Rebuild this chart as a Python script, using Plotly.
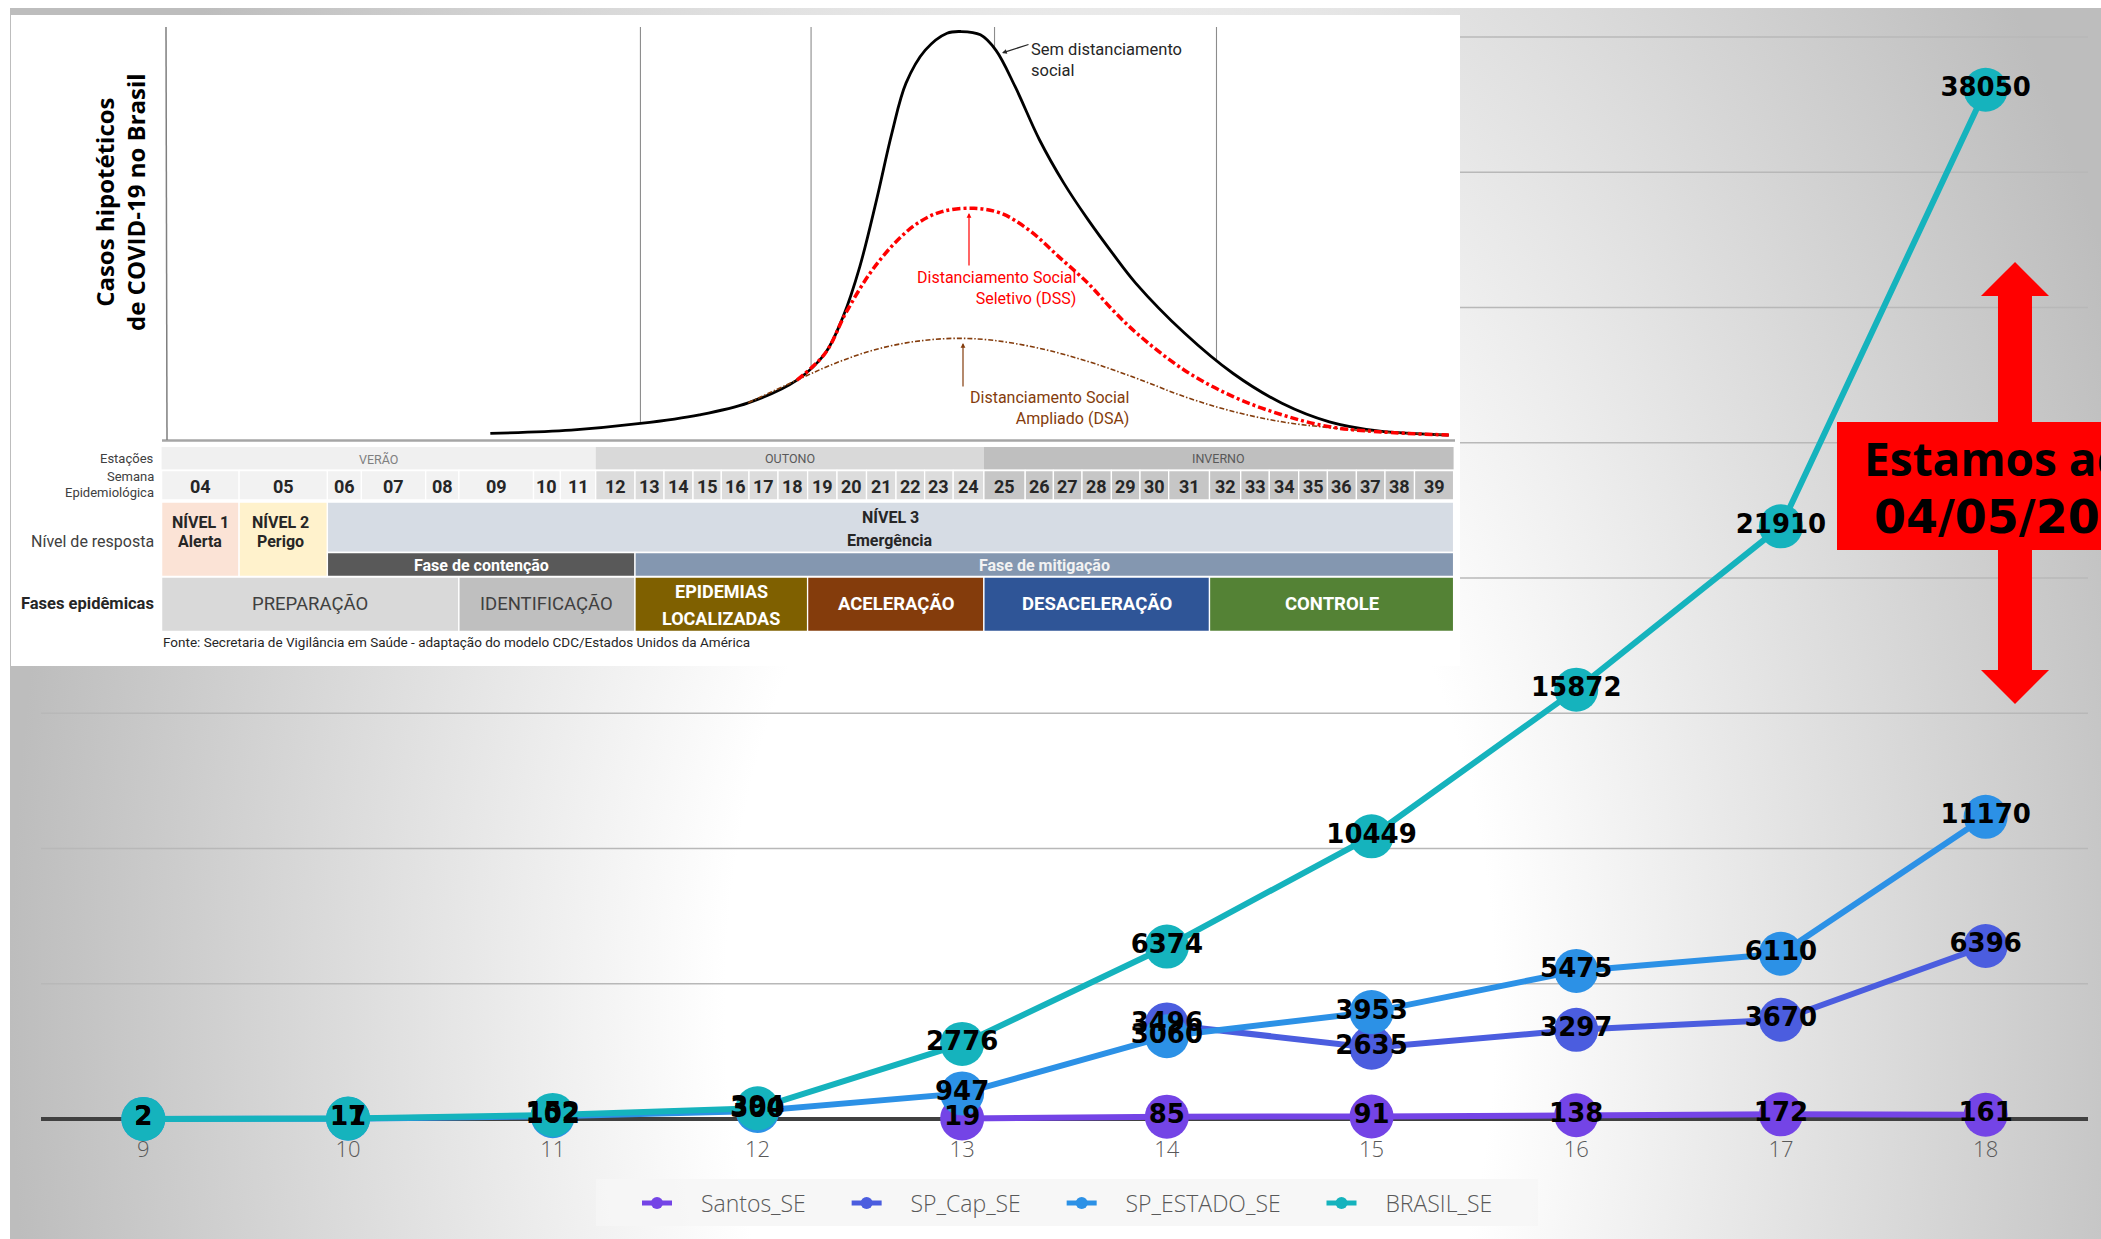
import base64
import plotly.graph_objects as go

# ---------------- main chart data (weekly new cases per epidemiological week) ----------------
semanas = [9, 10, 11, 12, 13, 14, 15, 16, 17, 18]
santos_se = [None, None, None, None, 19, 85, 91, 138, 172, 161]
sp_cap_se = [None, None, None, None, None, 3496, 2635, 3297, 3670, 6396]
sp_estado_se = [2, 11, 102, 300, 947, 3060, 3953, 5475, 6110, 11170]
brasil_se = [2, 17, 152, 394, 2776, 6374, 10449, 15872, 21910, 38050]
series_names = ["Santos_SE", "SP_Cap_SE", "SP_ESTADO_SE", "BRASIL_SE"]
series_colors = ["#7444e6", "#4b5ddf", "#2c91e6", "#15b3bd"]
grid_values = [5000, 10000, 15000, 20000, 25000, 30000, 35000, 40000]

# ---------------- inset: hypothetical curves (arbitrary units 0-100) ----------------
sem_x = [25.2, 31.5, 36.9, 41.5, 45.3, 49.1, 51.3, 52.7, 54.0, 55.3, 56.5, 57.6, 59.1, 60.8,
         61.9, 63.4, 64.6, 66.1, 68.0, 69.9, 71.8, 73.7, 75.5, 79.3, 83.1, 86.9, 90.6, 94.4, 99.9]
sem_y = [1.6, 2.4, 4.0, 6.1, 9.0, 14.5, 21.0, 29.9, 42.0, 58.1, 74.3, 86.4, 94.4, 98.5,
         98.9, 98.1, 94.4, 85.6, 72.7, 62.2, 53.3, 45.2, 38.0, 25.9, 16.1, 8.9, 4.4, 2.2, 1.2]
dss_x = [49.1, 51.3, 52.9, 54.8, 56.7, 58.5, 60.4, 62.9, 65.0, 67.2, 69.5, 71.8, 73.7, 75.6,
         79.3, 83.1, 86.9, 90.6, 94.4, 99.9]
dss_y = [14.5, 21.0, 30.7, 40.4, 47.6, 52.5, 55.3, 56.1, 54.9, 50.8, 44.4, 37.9, 31.5, 25.8,
         16.9, 10.5, 6.1, 3.2, 2.0, 1.2]
dsa_x = [45.3, 49.1, 52.1, 55.1, 58.2, 61.2, 64.2, 68.0, 71.8, 75.6, 79.3, 83.1, 86.9, 90.6, 94.4, 99.9]
dsa_y = [9.0, 14.5, 18.6, 21.8, 23.8, 24.6, 24.2, 22.2, 19.0, 14.9, 10.5, 6.9, 4.4, 3.0, 2.0, 1.2]
marcos_x = [36.9, 50.2, 64.5, 81.8]

semana_epi = ["04", "05", "06", "07", "08", "09", "10", "11", "12", "13", "14", "15", "16", "17",
              "18", "19", "20", "21", "22", "23", "24", "25", "26", "27", "28", "29", "30", "31",
              "32", "33", "34", "35", "36", "37", "38", "39"]
estacoes = ["VERÃO", "OUTONO", "INVERNO"]
fases = ["PREPARAÇÃO", "IDENTIFICAÇÃO", "EPIDEMIAS|LOCALIZADAS", "ACELERAÇÃO", "DESACELERAÇÃO", "CONTROLE"]

# ---------------- layout geometry ----------------
W, H = 2101, 1239
L, R, T, B = 41, 13, 25, 104
PW, PH = W - L - R, H - T - B
ZERO_PX = 1119
PX_PER_CASE = (1119 - 37) / 40000.0
Y_MIN = -(H - B - ZERO_PX) / PX_PER_CASE
Y_MAX = (ZERO_PX - T) / PX_PER_CASE


def px(x):
    return (x - L) / PW


def py(y):
    return (H - B - y) / PH


INSET_FONT = "Roboto, Noto Sans, sans-serif"
WEEK_EDGES = [161.6, 239.1, 327.4, 361.4, 425.7, 458.9, 533.5, 560.4, 595.7, 635.0, 664.0, 693.0,
              721.3, 749.0, 778.0, 807.6, 837.0, 866.5, 896.0, 924.6, 953.2, 983.9, 1025.2, 1053.4,
              1082.0, 1111.4, 1140.0, 1168.7, 1209.5, 1240.7, 1269.3, 1298.7, 1327.4, 1356.4,
              1385.0, 1414.5, 1453.6]
NB = "\u00a0"

fig = go.Figure()

# main series
all_series = [santos_se, sp_cap_se, sp_estado_se, brasil_se]
for name, vals, col in zip(series_names, all_series, series_colors):
    fig.add_trace(go.Scatter(
        x=semanas, y=vals, name=NB * 4 + name + NB * 6, mode="lines+markers",
        line=dict(color=col, width=6), marker=dict(color=col, size=44, line=dict(width=0)),
        cliponaxis=False, hoverinfo="skip"))
for name, vals in zip(series_names, all_series):
    fig.add_trace(go.Scatter(
        x=semanas, y=vals, mode="text", showlegend=False,
        text=["" if v is None else str(v) for v in vals], textposition="middle center",
        textfont=dict(family="DejaVu Sans", size=26, color="black", weight="bold"),
        cliponaxis=False, hoverinfo="skip"))

# inset curves
fig.add_trace(go.Scatter(x=sem_x, y=sem_y, xaxis="x2", yaxis="y2", mode="lines",
                         line=dict(color="black", width=2.8, shape="spline"),
                         fill="tozeroy", fillcolor="white", showlegend=False, hoverinfo="skip"))
fig.add_trace(go.Scatter(x=dsa_x, y=dsa_y, xaxis="x2", yaxis="y2", mode="lines",
                         line=dict(color="#843c0c", width=1.6, shape="spline", dash="5px,2px,1.5px,2px"),
                         showlegend=False, hoverinfo="skip"))
fig.add_trace(go.Scatter(x=dss_x, y=dss_y, xaxis="x2", yaxis="y2", mode="lines",
                         line=dict(color="#ff0000", width=3.5, shape="spline", dash="8px,3px,3px,3px"),
                         showlegend=False, hoverinfo="skip"))

shapes = []
# main gridlines and zero line
for g in grid_values:
    shapes.append(dict(type="line", xref="paper", yref="y", x0=0, x1=1, y0=g, y1=g,
                       line=dict(color="#b8b8b8", width=1.6), layer="below"))
shapes.append(dict(type="line", xref="paper", yref="y", x0=0, x1=1, y0=0, y1=0,
                   line=dict(color="#404040", width=4), layer="below"))
# inset white box
shapes.append(dict(type="rect", xref="paper", yref="paper", x0=px(11), x1=px(1460), y0=py(666), y1=py(15),
                   fillcolor="white", line=dict(width=0), layer="below"))


def rect(x0, x1, y0, y1, fill, lw=1.3):
    return dict(type="rect", xref="paper", yref="paper", x0=px(x0), x1=px(x1), y0=py(y1), y1=py(y0),
                fillcolor=fill, line=dict(color="white", width=lw), layer="below")


annotations = []


def ann(text, x, y, size, color, bold=False, xanchor="center", align="center", family=INSET_FONT, **kw):
    d = dict(text=text, x=px(x), y=py(y), xref="paper", yref="paper", showarrow=False,
             xanchor=xanchor, yanchor="middle", align=align,
             font=dict(family=family, size=size, color=color, weight="bold" if bold else "normal"))
    d.update(kw)
    return d


E = WEEK_EDGES
# seasons row
season_spans = [(0, 8), (8, 21), (21, 36)]
season_fill = ["#f0f0f0", "#d9d9d9", "#bfbfbf"]
season_txt = ["#7f7f7f", "#595959", "#595959"]
for lab, (a, b), fc, tc in zip(estacoes, season_spans, season_fill, season_txt):
    shapes.append(rect(E[a], E[b], 447, 469.5, fc, lw=0))
    annotations.append(ann(lab, (E[a] + E[b]) / 2, 458.5, 12.5, tc))
# week row
for i, lab in enumerate(semana_epi):
    fc = "#f2f2f2" if i < 8 else ("#dcdcdc" if i < 21 else "#c6c6c6")
    shapes.append(rect(E[i], E[i + 1], 470.5, 500, fc))
    annotations.append(ann(lab, (E[i] + E[i + 1]) / 2, 486, 18, "#262626", bold=True))
# response level rows
shapes.append(rect(E[0], E[1], 502, 576.5, "#fbe3d6"))
shapes.append(rect(E[1], E[2], 502, 576.5, "#fff2cc"))
shapes.append(rect(E[2], E[36], 502, 552.5, "#d6dce4"))
shapes.append(rect(E[2], E[9], 552.5, 576.5, "#595959"))
shapes.append(rect(E[9], E[36], 552.5, 576.5, "#8497b0"))
annotations += [
    ann("NÍVEL 1", (E[0] + E[1]) / 2, 522, 16, "#262626", bold=True),
    ann("Alerta", (E[0] + E[1]) / 2, 541, 16, "#262626", bold=True),
    ann("NÍVEL 2", (E[1] + E[2]) / 2 - 3, 522, 16, "#262626", bold=True),
    ann("Perigo", (E[1] + E[2]) / 2 - 3, 541, 16, "#262626", bold=True),
    ann("NÍVEL 3", 890, 517.5, 16, "#262626", bold=True),
    ann("Emergência", 890, 540, 16, "#262626", bold=True),
    ann("Fase de contenção", (E[2] + E[9]) / 2, 565, 16, "white", bold=True),
    ann("Fase de mitigação", 1044, 565, 16, "#f2f2f2", bold=True),
]
# epidemic phases row
fase_spans = [(0, 5), (5, 9), (9, 15), (15, 21), (21, 28), (28, 36)]
fase_fill = ["#d9d9d9", "#bfbfbf", "#7f6000", "#843c0c", "#2f5597", "#548235"]
fase_txt = ["#404040", "#404040", "white", "white", "white", "white"]
fase_bold = [False, False, True, True, True, True]
for lab, (a, b), fc, tc, bd in zip(fases, fase_spans, fase_fill, fase_txt, fase_bold):
    shapes.append(rect(E[a], E[b], 577, 631.5, fc))
    cx = (E[a] + E[b]) / 2
    parts = lab.split("|")
    if len(parts) == 1:
        annotations.append(ann(parts[0], cx, 604, 18.5, tc, bold=bd))
    else:
        annotations.append(ann(parts[0], cx, 591.5, 18, tc, bold=bd))
        annotations.append(ann(parts[1], cx, 618, 18, tc, bold=bd))
# row labels
annotations += [
    ann("Estações", 156, 458, 13, "#404040", xanchor="right"),
    ann("Semana", 156, 476.5, 13, "#404040", xanchor="right"),
    ann("Epidemiológica", 156, 492.5, 13, "#404040", xanchor="right"),
    ann("Nível de resposta", 156, 541.5, 16, "#404040", xanchor="right"),
    ann("Fases epidêmicas", 156, 603.5, 16.5, "#262626", bold=True, xanchor="right"),
    ann("Fonte: Secretaria de Vigilância em Saúde - adaptação do modelo CDC/Estados Unidos da América",
        161, 642, 13.5, "#262626", xanchor="left"),
    ann("Casos hipotéticos<br>de COVID-19 no Brasil", 120, 202, 24, "black", bold=True,
        family="Open Sans", textangle=-90),
    ann("Sem distanciamento<br>social", 1029, 60, 16.5, "#262626", xanchor="left", align="left"),
    ann("Distanciamento Social<br>Seletivo (DSS)", 1078, 288, 16, "#ff0000", xanchor="right", align="right"),
    ann("Distanciamento Social<br>Ampliado (DSA)", 1131, 408, 16, "#843c0c", xanchor="right", align="right"),
]
# inset arrows
for (tx, ty, ax, ay, col) in [(1002, 53, 28, -9, "#262626"), (969, 213, 0, 54, "#ff0000"),
                              (963, 343, 0, 45, "#843c0c")]:
    annotations.append(dict(text="", x=px(tx), y=py(ty), xref="paper", yref="paper", showarrow=True,
                            ax=ax, ay=ay, arrowhead=2, arrowsize=0.8, arrowwidth=1.2, arrowcolor=col))

# inset axis lines
shapes.append(dict(type="line", xref="paper", yref="paper", x0=px(162), x1=px(1455), y0=py(440.5), y1=py(440.5),
                   line=dict(color="#a6a6a6", width=2.6), layer="above"))
shapes.append(dict(type="line", xref="paper", yref="paper", x0=px(167), x1=px(166), y0=py(440), y1=py(27),
                   line=dict(color="#7f7f7f", width=1.5), layer="above"))
# inset vertical reference lines (beneath curves)
for mx in marcos_x:
    shapes.append(dict(type="line", xref="x2", yref="y2", x0=mx, x1=mx, y0=0, y1=100,
                       line=dict(color="#8c8c8c", width=1.1), layer="below"))

# legend background
shapes.append(dict(type="rect", xref="paper", yref="paper", x0=px(596), x1=px(1538), y0=py(1226), y1=py(1179),
                   fillcolor="rgba(246,246,246,0.85)", line=dict(width=0), layer="below"))

# red double arrow and box
pts = [(2015, 262), (2049, 296), (2032, 296), (2032, 670), (2049, 670), (2015, 704), (1981, 670),
       (1998, 670), (1998, 296), (1981, 296)]
path = "M " + " L ".join(f"{px(a):.5f},{py(b):.5f}" for a, b in pts) + " Z"
shapes.append(dict(type="path", xref="paper", yref="paper", path=path, fillcolor="#ff0000",
                   line=dict(width=0), layer="above"))
shapes.append(dict(type="rect", xref="paper", yref="paper", x0=px(1837), x1=px(2195), y0=py(550), y1=py(422),
                   fillcolor="#ff0000", line=dict(width=0), layer="above"))
annotations.append(ann("Estamos aqui", 1862, 458, 46, "black", bold=True, family="Open Sans", xanchor="left"))
annotations.append(ann("04/05/2020", 1872, 517, 46, "black", bold=True, family="DejaVu Sans", xanchor="left"))

# background gradient
svg = ("<svg xmlns='http://www.w3.org/2000/svg' width='2091' height='1231' viewBox='0 0 2091 1231' "
       "preserveAspectRatio='none'><defs><radialGradient id='g' gradientUnits='userSpaceOnUse' "
       "cx='1100' cy='1000' r='1100' gradientTransform='translate(1100 1000) scale(1 1.6) translate(-1100 -1000)'>"
       "<stop offset='0' stop-color='#ffffff'/><stop offset='0.35' stop-color='#ffffff'/>"
       "<stop offset='1' stop-color='#bdbdbd'/></radialGradient></defs>"
       "<rect x='0' y='0' width='2091' height='1231' fill='url(#g)'/></svg>")
src = "data:image/svg+xml;base64," + base64.b64encode(svg.encode("utf-8")).decode("ascii")

fig.update_layout(
    width=W, height=H, margin=dict(l=L, r=R, t=T, b=B),
    paper_bgcolor="white", plot_bgcolor="rgba(0,0,0,0)",
    showlegend=True,
    legend=dict(orientation="h", x=px(1085), xanchor="center", y=py(1203), yanchor="middle",
                bgcolor="rgba(0,0,0,0)", itemsizing="constant", traceorder="normal",
                font=dict(family="Open Sans", size=23, color="#595959", weight=300)),
    xaxis=dict(range=[8.5, 18.5], tickvals=semanas, ticktext=[str(s) for s in semanas],
               showgrid=False, zeroline=False, showline=False, ticks="", ticklabelstandoff=-1,
               tickfont=dict(family="Open Sans", size=22, color="#595959", weight=300)),
    yaxis=dict(range=[Y_MIN, Y_MAX], visible=False),
    xaxis2=dict(domain=[px(167), px(1450)], range=[0, 100], visible=False, anchor="y2"),
    yaxis2=dict(domain=[py(440), py(27)], range=[0, 100], visible=False, anchor="x2"),
    shapes=shapes, annotations=annotations,
    images=[dict(source=src, xref="paper", yref="paper", x=px(10), y=py(8), sizex=(W - 10) / PW,
                 sizey=(H - 8) / PH, xanchor="left", yanchor="top", sizing="stretch", layer="below")],
)

fig.write_html("out.html", config={"displayModeBar": False},
               post_script="document.body.style.margin='0';document.body.style.overflow='hidden';")
